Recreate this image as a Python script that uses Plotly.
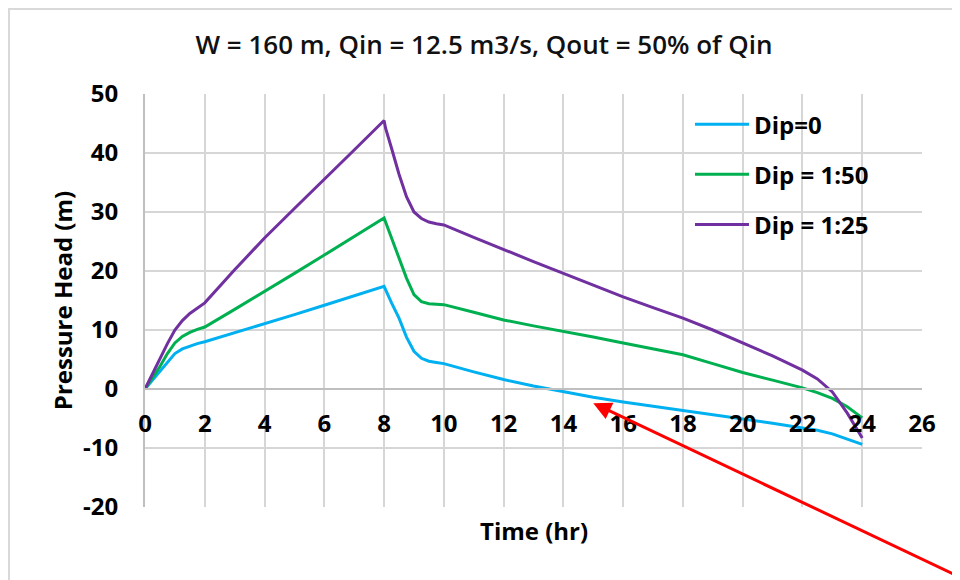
import plotly.graph_objects as go

# ---- data ----
t_blue = [0, 0.25, 0.5, 0.75, 1, 1.25, 1.5, 1.75, 2, 3, 4, 5, 6, 7, 8, 8.25, 8.5, 8.75, 9, 9.25, 9.5, 9.75, 10,
          11, 12, 13, 14, 15, 16, 17, 18, 19, 20, 21, 22, 22.5, 23, 23.5, 24]
dip0 = [0, 1.5, 3.0, 4.6, 6.0, 6.8, 7.3, 7.7, 8.0, 9.5, 11.0, 12.6, 14.2, 15.8, 17.4, 14.6, 12.0, 8.8, 6.4, 5.2, 4.7, 4.5, 4.3,
        2.9, 1.6, 0.5, -0.5, -1.4, -2.2, -2.9, -3.6, -4.3, -5.0, -5.8, -6.6, -7.0, -7.6, -8.5, -9.4]

t_green = [0, 0.25, 0.5, 0.75, 1, 1.25, 1.5, 1.75, 2, 3, 4, 5, 6, 7, 8, 8.25, 8.5, 8.75, 9, 9.25, 9.5, 9.75, 10,
           11, 12, 13, 14, 15, 16, 17, 18, 19, 20, 21, 22, 22.5, 23, 23.5, 24]
dip50 = [0, 1.9, 3.8, 6.0, 7.8, 8.9, 9.6, 10.1, 10.5, 13.5, 16.5, 19.6, 22.7, 25.8, 29.0, 25.6, 22.3, 18.8, 16.0, 14.8, 14.45, 14.35, 14.3,
         13.0, 11.7, 10.7, 9.8, 8.8, 7.8, 6.8, 5.8, 4.3, 2.8, 1.5, 0.2, -0.6, -1.6, -3.0, -4.9]

t_purple = [0, 0.25, 0.5, 0.75, 1, 1.25, 1.5, 1.75, 2, 3, 4, 5, 6, 7, 8, 8.05, 8.25, 8.5, 8.75, 9, 9.25, 9.5, 9.75, 10,
            11, 12, 13, 14, 15, 16, 17, 18, 19, 20, 21, 22, 22.5, 23, 23.5, 24]
dip25 = [0, 2.6, 5.2, 7.7, 10.0, 11.6, 12.8, 13.7, 14.6, 20.2, 25.6, 30.6, 35.5, 40.5, 45.5, 44.2, 40.8, 36.4, 32.6, 30.0, 28.9, 28.3, 28.0, 27.8,
         25.7, 23.6, 21.6, 19.6, 17.6, 15.6, 13.8, 12.0, 10.0, 7.8, 5.6, 3.2, 1.7, -0.5, -4.1, -8.3]

series_names = ["Dip=0", "Dip = 1:50", "Dip = 1:25"]
series_colors = ["#00B0F0", "#00B050", "#7030A0"]
x_ticks = list(range(0, 27, 2))
y_ticks = list(range(-20, 51, 10))
y_ticklabels = [str(v) for v in y_ticks]  # plain hyphen minus, as in the reference

title_text = "W = 160 m, Qin = 12.5 m3/s, Qout = 50% of Qin"
x_title = "Time (hr)"
y_title = "Pressure Head (m)"

FONT = "Open Sans"

fig = go.Figure()
for t, v, name, col in zip([t_blue, t_green, t_purple], [dip0, dip50, dip25], series_names, series_colors):
    fig.add_trace(go.Scatter(x=t, y=v, mode="lines", name=name, legendgroup=name,
                             line=dict(color=col, width=3)))

grid = "#D6D6D6"
fig.update_layout(
    width=952, height=572,
    margin=dict(l=137, r=38, t=86, b=73),
    paper_bgcolor="white", plot_bgcolor="white",
    font=dict(family=FONT, color="black"),
    title=dict(text=title_text, x=0.5, xanchor="center", y=1 - 37 / 572, yanchor="middle",
               yref="container", font=dict(family=FONT, size=26, color="#111111", weight=600)),
    showlegend=True,
    legend=dict(x=0.7014, y=0.9805, xanchor="left", yanchor="top", bgcolor="rgba(0,0,0,0)",
                borderwidth=0, tracegroupgap=16, itemwidth=54,
                font=dict(family=FONT, size=24, color="black", weight="bold")),
    xaxis=dict(range=[0, 26], tickvals=x_ticks, showgrid=True, gridcolor=grid, gridwidth=2,
               zeroline=False, showline=True, linecolor="#BFBFBF", linewidth=2,
               anchor="free", position=20 / 70, ticks="", ticklabelstandoff=13,
               tickfont=dict(family=FONT, size=24, color="black", weight="bold")),
    yaxis=dict(range=[-20, 50], tickvals=y_ticks, ticktext=y_ticklabels, showgrid=True,
               gridcolor=grid, gridwidth=2,
               zeroline=False, showline=True, linecolor="#BFBFBF", linewidth=2,
               ticks="", ticklabelstandoff=20,
               title=dict(text=y_title, standoff=4,
                          font=dict(family=FONT, size=24, color="black", weight="bold")),
               tickfont=dict(family=FONT, size=24, color="black", weight="bold")),
)

# legend background box (white, above the grid, below the lines)
fig.add_shape(type="rect", xref="paper", yref="paper", x0=0.667, x1=0.976, y0=0.627, y1=0.978,
              fillcolor="white", line=dict(width=0), layer="between")

# x-axis title (placed below the plot area since the axis crosses at y=0)
fig.add_annotation(text=x_title, xref="paper", yref="paper", x=0.5, y=0, yanchor="top",
                   yshift=-5, showarrow=False,
                   font=dict(family=FONT, size=24, color="black", weight="bold"))

# red arrow
fig.add_annotation(x=15.0, y=-2.4, xref="x", yref="y", ax=367, ay=174, text="",
                   showarrow=True, arrowhead=2, arrowsize=1.2, arrowwidth=3, arrowcolor="#FF0000")

# chart-area border
fig.add_shape(type="rect", xref="paper", yref="paper", x0=-0.175, x1=1.2, y0=-0.3, y1=1.2058,
              line=dict(color="#D9D9D9", width=2), layer="below")

fig.write_html("out.html")
